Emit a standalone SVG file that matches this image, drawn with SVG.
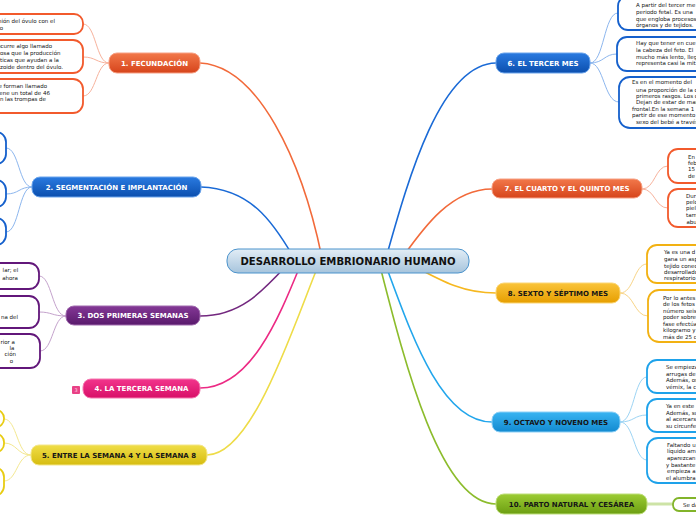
<svg xmlns="http://www.w3.org/2000/svg" width="696" height="520" viewBox="0 0 696 520">
<defs>
<linearGradient id="gC" x1="0" y1="0" x2="0" y2="1"><stop offset="0" stop-color="#e2edf6"/><stop offset="1" stop-color="#a6c4dc"/></linearGradient>
<linearGradient id="gO" x1="0" y1="0" x2="0" y2="1"><stop offset="0" stop-color="#f2784a"/><stop offset="1" stop-color="#d6441b"/></linearGradient>
<linearGradient id="gB" x1="0" y1="0" x2="0" y2="1"><stop offset="0" stop-color="#2a7ae0"/><stop offset="1" stop-color="#0c4fae"/></linearGradient>
<linearGradient id="gP" x1="0" y1="0" x2="0" y2="1"><stop offset="0" stop-color="#843896"/><stop offset="1" stop-color="#591a6c"/></linearGradient>
<linearGradient id="gK" x1="0" y1="0" x2="0" y2="1"><stop offset="0" stop-color="#f2358c"/><stop offset="1" stop-color="#d80f68"/></linearGradient>
<linearGradient id="gY" x1="0" y1="0" x2="0" y2="1"><stop offset="0" stop-color="#f0de48"/><stop offset="1" stop-color="#d6bc10"/></linearGradient>
<linearGradient id="gA" x1="0" y1="0" x2="0" y2="1"><stop offset="0" stop-color="#fac43a"/><stop offset="1" stop-color="#e69e00"/></linearGradient>
<linearGradient id="gL" x1="0" y1="0" x2="0" y2="1"><stop offset="0" stop-color="#3ab4f2"/><stop offset="1" stop-color="#128ad0"/></linearGradient>
<linearGradient id="gG" x1="0" y1="0" x2="0" y2="1"><stop offset="0" stop-color="#9ccc34"/><stop offset="1" stop-color="#6c9e12"/></linearGradient>
</defs>
<style>
.main{fill:none;stroke-width:1.6}
.sub{fill:none;stroke-width:1}
.lbl{font-family:"DejaVu Sans","Liberation Sans",sans-serif;font-weight:bold;font-size:7px;text-anchor:middle}
.w{fill:#ffffff}
.k{fill:#161616}
.bub{fill:#ffffff;stroke-width:1.8}
.t{font-family:"DejaVu Sans","Liberation Sans",sans-serif;font-size:5.5px;fill:#141414}
.l{text-anchor:end}
</style>

<g id="connectors">
<path class="main" stroke="#f26a3a" d="M200,63 C258,66 302,160 322,258"/>
<path class="main" stroke="#1a6ad6" d="M201,187 C250,189 272,220 294,258"/>
<path class="main" stroke="#73287f" d="M200,316 C240,316 262,292 286,266"/>
<path class="main" stroke="#ec2a84" d="M200,388 C250,388 278,320 300,266"/>
<path class="main" stroke="#eedc48" d="M207,455 C252,455 292,330 318,266"/>
<path class="main" stroke="#1a6ad6" d="M496,63 C440,64 408,180 386,258"/>
<path class="main" stroke="#f26a3a" d="M492,189 C450,189 422,230 402,258"/>
<path class="main" stroke="#f6b820" d="M496,293 C462,293 440,280 410,264"/>
<path class="main" stroke="#22a6ec" d="M492,422 C440,422 410,330 386,266"/>
<path class="main" stroke="#8cbc2c" d="M496,504 C440,504 404,360 380,266"/>

<g stroke="#f7b29c">
<path class="sub" d="M109,63 C96,63 96,24 83,24"/>
<path class="sub" d="M109,63 C96,63 96,57 83,57"/>
<path class="sub" d="M109,63 C96,63 96,96 83,96"/>
</g>
<g stroke="#8cb6ee">
<path class="sub" d="M32,187 C19,187 19,148 6,148"/>
<path class="sub" d="M32,187 C19,187 19,194 6,194"/>
<path class="sub" d="M32,187 C19,187 19,232 6,232"/>
</g>
<g stroke="#c4a2cc">
<path class="sub" d="M66,316 C52,316 52,276 39,276"/>
<path class="sub" d="M66,316 C52,316 52,312 39,312"/>
<path class="sub" d="M66,316 C53,316 53,351 40,351"/>
</g>
<g stroke="#f4e890">
<path class="sub" d="M31,455 C17,455 17,419 4,419"/>
<path class="sub" d="M31,455 C17,455 17,443 4,443"/>
<path class="sub" d="M31,455 C17,455 17,481 4,481"/>
</g>
<g stroke="#8cb6ee">
<path class="sub" d="M590,63 C604,63 604,13 618,13"/>
<path class="sub" d="M590,63 C604,63 604,54 617,54"/>
<path class="sub" d="M590,63 C604,63 604,102 619,102"/>
</g>
<g stroke="#f7b29c">
<path class="sub" d="M642,189 C655,189 655,166 668,166"/>
<path class="sub" d="M642,189 C655,189 655,208 668,208"/>
</g>
<g stroke="#f8d486">
<path class="sub" d="M620,293 C634,293 634,264 647,264"/>
<path class="sub" d="M620,293 C634,293 634,316 648,316"/>
</g>
<g stroke="#9cd4f4">
<path class="sub" d="M620,422 C634,422 634,377 647,377"/>
<path class="sub" d="M620,422 C634,422 634,415 647,415"/>
<path class="sub" d="M620,422 C634,422 634,460 647,460"/>
</g>
<path fill="none" stroke="#cde3a6" stroke-width="3" d="M647,504 L673,504"/>
</g>

<g id="central">
<rect x="227" y="249" width="242" height="24" rx="11" fill="url(#gC)" stroke="#4b93cc" stroke-width="1"/>
<text x="348" y="264.8" font-family="DejaVu Sans, Liberation Sans, sans-serif" font-weight="bold" font-size="10.1" text-anchor="middle" fill="#111">DESARROLLO EMBRIONARIO HUMANO</text>
</g>

<g id="n1">
<rect x="109" y="53" width="91" height="20" rx="8" fill="url(#gO)" stroke="#f7a084" stroke-width="1"/>
<text class="lbl w" x="154.5" y="65.5">1. FECUNDACIÓN</text>
</g>
<g id="n1a"><rect class="bub" stroke="#f25a2c" x="-100" y="14" width="183" height="20" rx="9"/>
<text class="t l"><tspan x="55" y="23">nión del óvulo con el</tspan><tspan x="3" y="29.7">o</tspan></text></g>
<g id="n1b"><rect class="bub" stroke="#f25a2c" x="-100" y="40" width="183" height="33" rx="10"/>
<text class="t l"><tspan x="52" y="47.7">ocurre algo llamado</tspan><tspan x="60.5" y="55">osa que la producción</tspan><tspan x="59" y="62">ticas que ayudan a la</tspan><tspan x="63" y="69">zoide dentro del óvulo.</tspan></text></g>
<g id="n1c"><rect class="bub" stroke="#f25a2c" x="-100" y="79" width="183" height="34" rx="10"/>
<text class="t l"><tspan x="47" y="88">e forman llamado</tspan><tspan x="50" y="94.7">ene un total de 46</tspan><tspan x="46" y="101.3">n las trompas de</tspan></text></g>

<g id="n2">
<rect x="32" y="177" width="169" height="20" rx="8" fill="url(#gB)" stroke="#6aa4ec" stroke-width="1"/>
<text class="lbl w" x="116.5" y="189.5">2. SEGMENTACIÓN E IMPLANTACIÓN</text>
</g>
<g id="n2a"><rect class="bub" stroke="#1560cc" x="-100" y="132" width="106" height="32" rx="10"/></g>
<g id="n2b"><rect class="bub" stroke="#1560cc" x="-100" y="180" width="106" height="27" rx="10"/></g>
<g id="n2c"><rect class="bub" stroke="#1560cc" x="-100" y="218" width="106" height="27" rx="10"/></g>

<g id="n3">
<rect x="66" y="306" width="134" height="19" rx="8" fill="url(#gP)" stroke="#a06aae" stroke-width="1"/>
<text class="lbl w" x="133" y="318">3. DOS PRIMERAS SEMANAS</text>
</g>
<g id="n3a"><rect class="bub" stroke="#62177a" x="-100" y="263" width="139" height="26" rx="10"/>
<text class="t l"><tspan x="18.3" y="272">lar; el</tspan><tspan x="18" y="279.7">ahora</tspan></text></g>
<g id="n3b"><rect class="bub" stroke="#62177a" x="-100" y="296" width="139" height="32" rx="10"/>
<text class="t l"><tspan x="18" y="318.7">na del</tspan></text></g>
<g id="n3c"><rect class="bub" stroke="#62177a" x="-100" y="334" width="140" height="34" rx="10"/>
<text class="t l"><tspan x="15" y="344.3">rior a</tspan><tspan x="14.5" y="350.3">la</tspan><tspan x="16" y="356.3">ción</tspan><tspan x="13" y="363">o</tspan></text></g>

<g id="n4">
<rect x="83" y="379" width="117" height="19" rx="8" fill="url(#gK)" stroke="#f478b0" stroke-width="1"/>
<text class="lbl w" x="141.5" y="391">4. LA TERCERA SEMANA</text>
<rect x="72" y="386" width="8" height="8" rx="1" fill="#e94186"/>
<text x="76" y="392" font-family="DejaVu Sans, sans-serif" font-size="5" text-anchor="middle" fill="#ffd0e4">3</text>
</g>

<g id="n5">
<rect x="31" y="445" width="176" height="20" rx="8" fill="url(#gY)" stroke="#f4e68a" stroke-width="1"/>
<text class="lbl k" x="119" y="457.5">5. ENTRE LA SEMANA 4 Y LA SEMANA 8</text>
</g>
<g id="n5a"><rect class="bub" stroke="#e8cc12" x="-100" y="410" width="104" height="17" rx="8"/></g>
<g id="n5b"><rect class="bub" stroke="#e8cc12" x="-100" y="434" width="104" height="18" rx="8"/></g>
<g id="n5c"><rect class="bub" stroke="#e8cc12" x="-100" y="467" width="104" height="29" rx="10"/></g>

<g id="n6">
<rect x="496" y="53" width="94" height="20" rx="8" fill="url(#gB)" stroke="#6aa4ec" stroke-width="1"/>
<text class="lbl w" x="543" y="65.5">6. EL TERCER MES</text>
</g>
<g id="n6a"><rect class="bub" stroke="#1560cc" x="618" y="-4" width="120" height="34" rx="10"/>
<text class="t"><tspan x="636" y="7.3">A partir del tercer me</tspan><tspan x="636" y="14">periodo fetal. Es una</tspan><tspan x="636" y="20.7">que engloba procesos</tspan><tspan x="636" y="27.3">órganos y de tejidos.</tspan></text></g>
<g id="n6b"><rect class="bub" stroke="#1560cc" x="617" y="37" width="120" height="34" rx="10"/>
<text class="t"><tspan x="636" y="45">Hay que tener en cue</tspan><tspan x="636" y="52">la cabeza del feto. El</tspan><tspan x="636" y="59">mucho más lento, lleg</tspan><tspan x="636" y="65.3">representa casi la mit</tspan></text></g>
<g id="n6c"><rect class="bub" stroke="#1560cc" x="619" y="77" width="120" height="51" rx="11"/>
<text class="t"><tspan x="632" y="84.3">Es en el momento del</tspan><tspan x="636" y="92">una proporción de la c</tspan><tspan x="636" y="98">primeros rasgos. Los o</tspan><tspan x="636" y="104.3">Dejan de estar de man</tspan><tspan x="632" y="110.7">frontal.En la semana 1</tspan><tspan x="632" y="117">partir de ese momento</tspan><tspan x="636" y="123.7">sexo del bebé a través</tspan></text></g>

<g id="n7">
<rect x="492" y="179" width="150" height="19" rx="8" fill="url(#gO)" stroke="#f7a084" stroke-width="1"/>
<text class="lbl w" x="567" y="191">7. EL CUARTO Y EL QUINTO MES</text>
</g>
<g id="n7a"><rect class="bub" stroke="#f25a2c" x="668" y="149" width="60" height="34" rx="10"/>
<text class="t"><tspan x="688" y="159">En</tspan><tspan x="688" y="165">feb</tspan><tspan x="688" y="171">15</tspan><tspan x="688" y="178">de</tspan></text></g>
<g id="n7b"><rect class="bub" stroke="#f25a2c" x="668" y="189" width="60" height="38" rx="10"/>
<text class="t"><tspan x="686" y="198">Dur</tspan><tspan x="686" y="204">pelo</tspan><tspan x="686" y="210">piel</tspan><tspan x="686" y="217">tam</tspan><tspan x="686.5" y="224">abu</tspan></text></g>

<g id="n8">
<rect x="496" y="283" width="124" height="20" rx="8" fill="url(#gA)" stroke="#fbd676" stroke-width="1"/>
<text class="lbl k" x="558" y="295.5">8. SEXTO Y SÉPTIMO MES</text>
</g>
<g id="n8a"><rect class="bub" stroke="#f2b112" x="647" y="245" width="80" height="38" rx="10"/>
<text class="t"><tspan x="664" y="254">Ya es una d</tspan><tspan x="664" y="261">gana un asp</tspan><tspan x="664" y="268">tejido conec</tspan><tspan x="664" y="274">desarrollado</tspan><tspan x="664" y="280">respiratorio</tspan></text></g>
<g id="n8b"><rect class="bub" stroke="#f2b112" x="648" y="290" width="80" height="52" rx="11"/>
<text class="t"><tspan x="663" y="300">Por lo antes</tspan><tspan x="663" y="306">de los fetos</tspan><tspan x="663" y="313">número seis</tspan><tspan x="663" y="319">poder sobre</tspan><tspan x="663" y="326">fase efectúa</tspan><tspan x="663" y="332">kilogramo y</tspan><tspan x="663" y="339">más de 25 c</tspan></text></g>

<g id="n9">
<rect x="492" y="412" width="128" height="20" rx="8" fill="url(#gL)" stroke="#8ed0f6" stroke-width="1"/>
<text class="lbl k" x="556" y="424.5">9. OCTAVO Y NOVENO MES</text>
</g>
<g id="n9a"><rect class="bub" stroke="#1ea2ea" x="647" y="360" width="80" height="33" rx="10"/>
<text class="t"><tspan x="666" y="369">Se empieza</tspan><tspan x="666" y="376">arrugas de</tspan><tspan x="666" y="382">Además, os</tspan><tspan x="666" y="389">vérnix, la c</tspan></text></g>
<g id="n9b"><rect class="bub" stroke="#1ea2ea" x="647" y="399" width="80" height="33" rx="10"/>
<text class="t"><tspan x="666" y="408">Ya en este</tspan><tspan x="666" y="415">Además, su</tspan><tspan x="666" y="421">al acercars</tspan><tspan x="666" y="428">su circunfe</tspan></text></g>
<g id="n9c"><rect class="bub" stroke="#1ea2ea" x="647" y="438" width="80" height="45" rx="11"/>
<text class="t"><tspan x="667" y="447">Faltando u</tspan><tspan x="667" y="453">líquido am</tspan><tspan x="667" y="460">aparezcan</tspan><tspan x="666" y="467">y bastante</tspan><tspan x="667" y="473">empieza a</tspan><tspan x="666" y="480">el alumbra</tspan></text></g>

<g id="n10">
<rect x="496" y="494" width="151" height="20" rx="8" fill="url(#gG)" stroke="#bede7a" stroke-width="1"/>
<text class="lbl k" x="571.5" y="506.5">10. PARTO NATURAL Y CESÁREA</text>
</g>
<g id="n10a"><rect class="bub" stroke="#82b42a" stroke-width="1.4" x="673" y="498" width="60" height="13" rx="6"/>
<text class="t"><tspan x="683" y="506.5">Se da</tspan></text></g>
</svg>
